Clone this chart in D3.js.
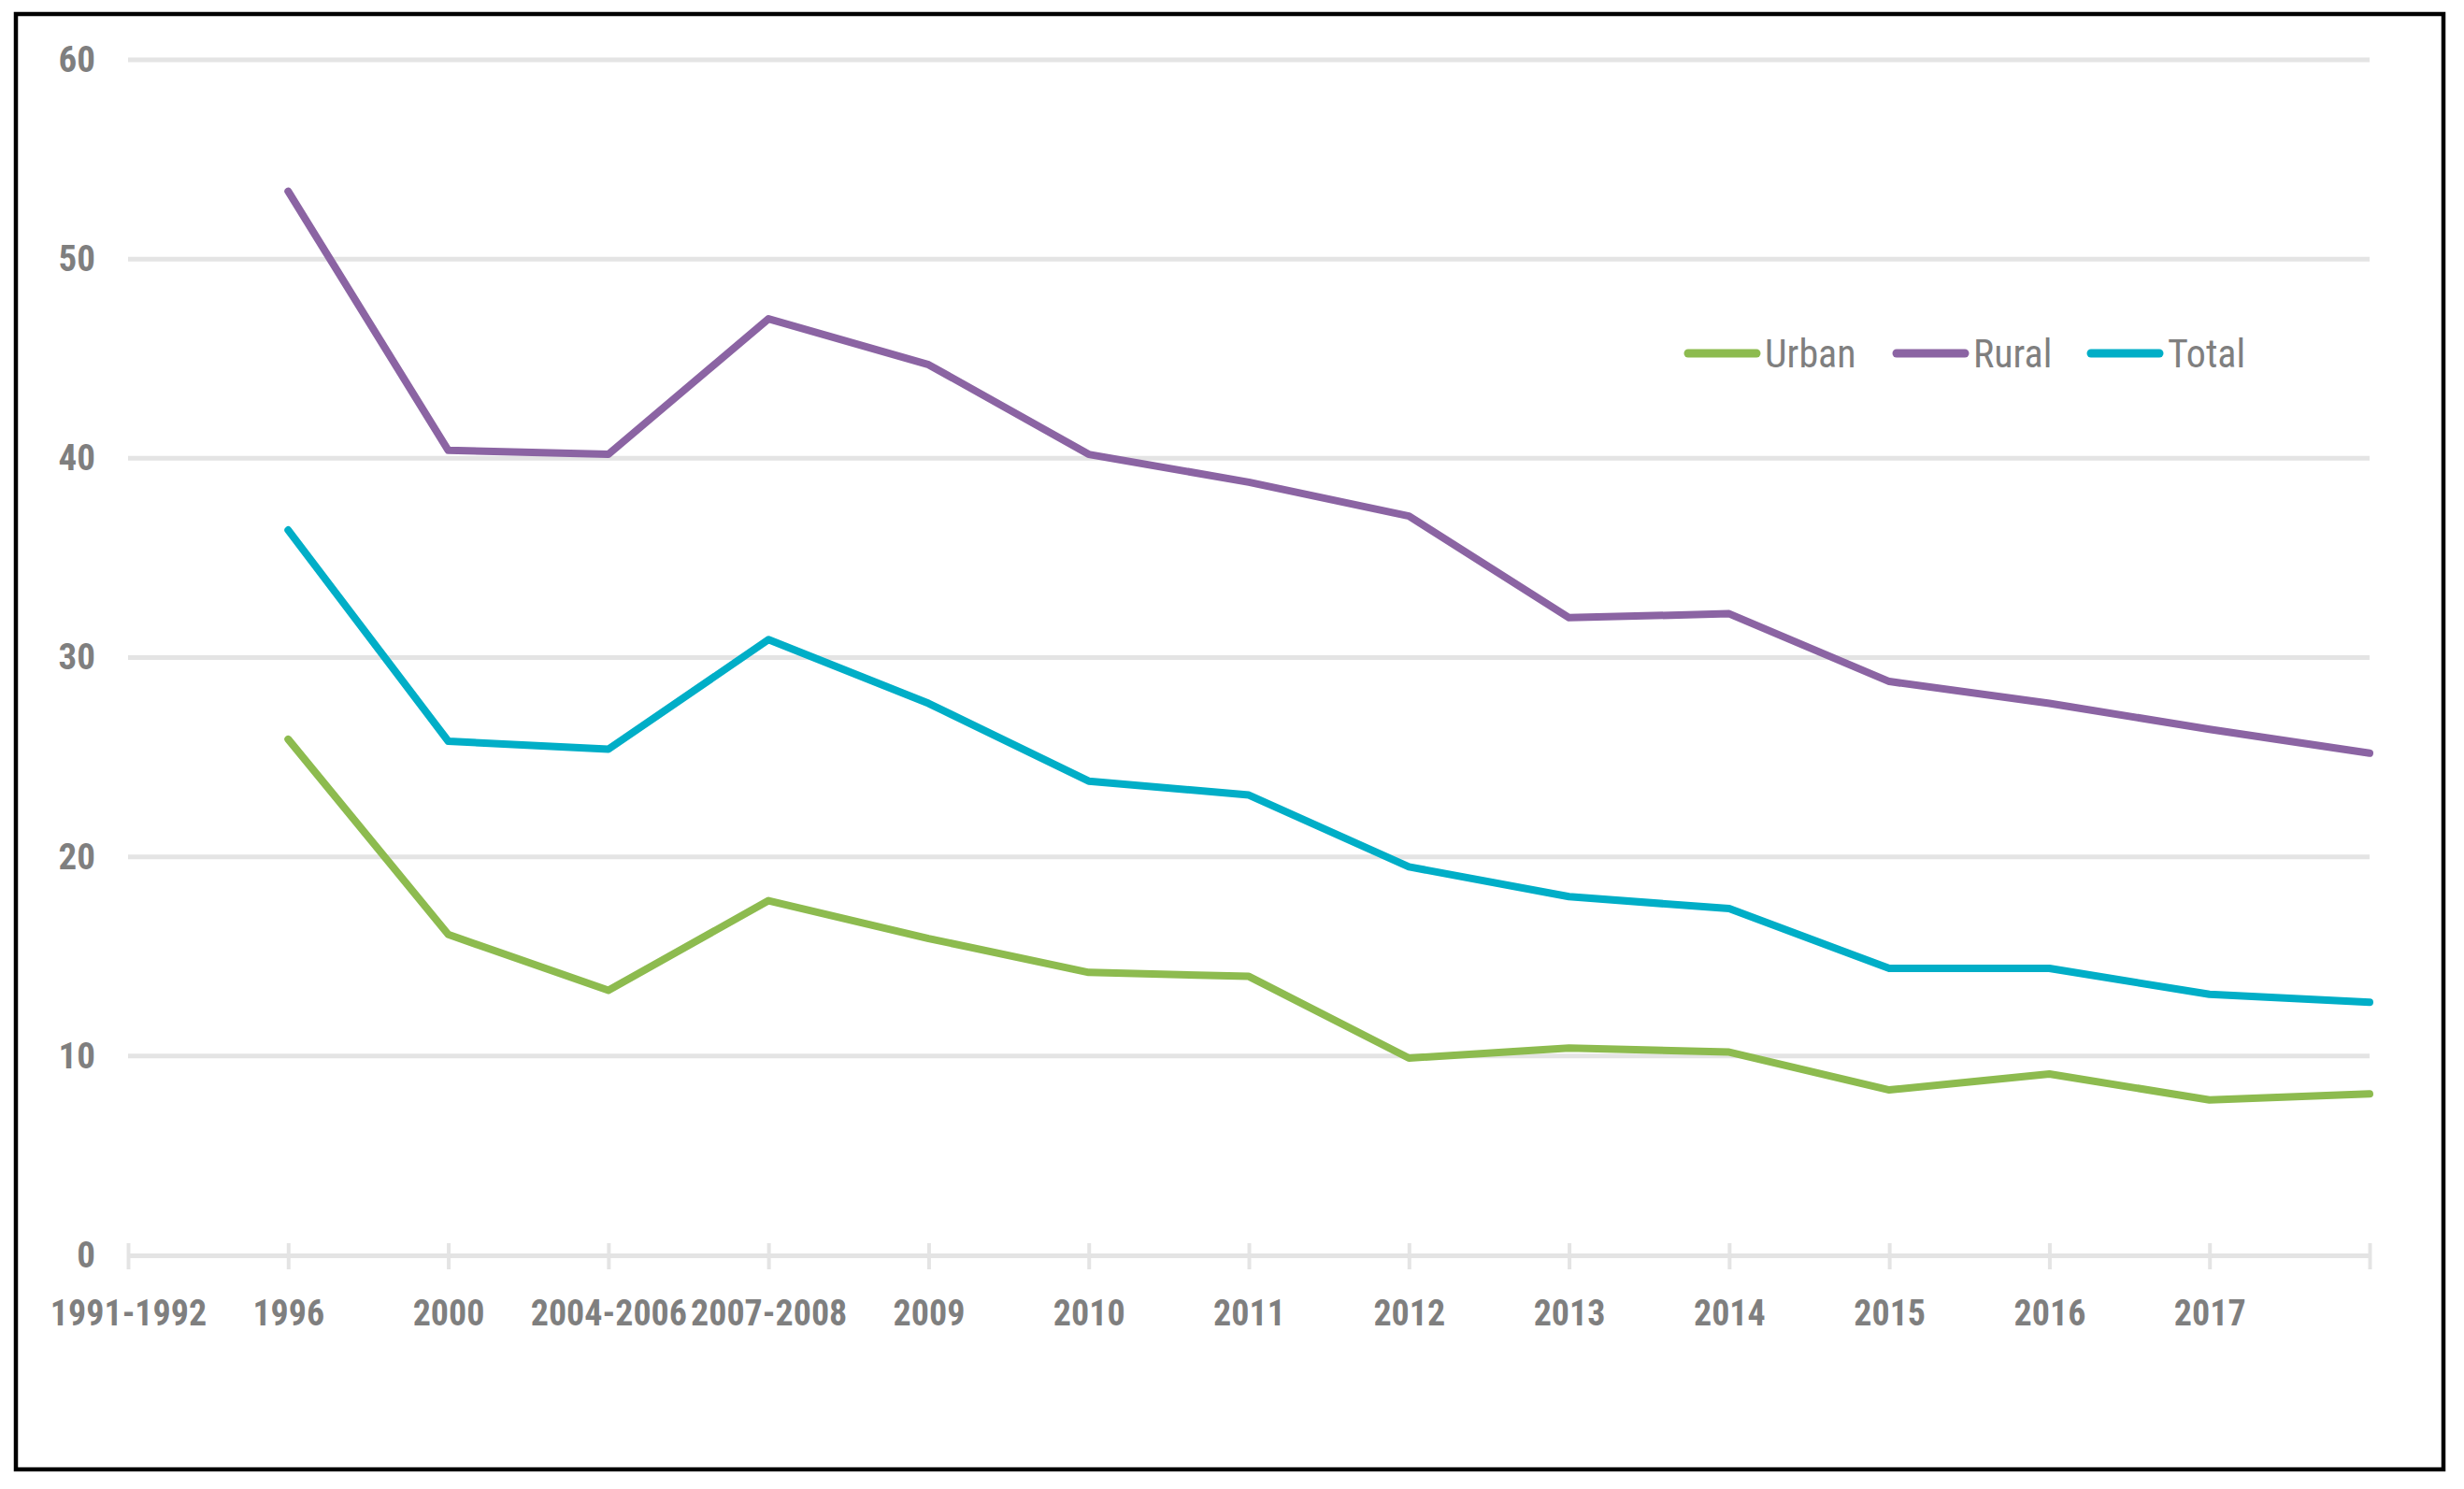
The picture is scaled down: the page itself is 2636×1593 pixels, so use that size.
<!DOCTYPE html>
<html>
<head>
<meta charset="utf-8">
<script src="https://cdn.jsdelivr.net/npm/d3@7"></script>
<style>
  body { margin: 0; background: #fff; }
  text { font-family: "Liberation Sans Narrow", "Roboto Condensed", "Liberation Sans", sans-serif; fill: #7f7f7f; }
</style>
</head>
<body>
<svg id="chart" width="2636" height="1593"></svg>
<script>
// categories on the x axis (last slot has no label)
var categories = ['1991-1992', '1996', '2000', '2004-2006', '2007-2008', '2009', '2010',
  '2011', '2012', '2013', '2014', '2015', '2016', '2017', ''];

// values (first category has no data)
var urban = [null, 25.9, 16.1, 13.3, 17.8, 15.9, 14.2, 14.0, 9.9, 10.4, 10.2, 8.3, 9.1, 7.8, 8.1];
var rural = [null, 53.4, 40.4, 40.2, 47.0, 44.7, 40.2, 38.8, 37.1, 32.0, 32.2, 28.8, 27.7, 26.4, 25.2];
var total = [null, 36.4, 25.8, 25.4, 30.9, 27.7, 23.8, 23.1, 19.5, 18.0, 17.4, 14.4, 14.4, 13.1, 12.7];

var yTicks = [0, 10, 20, 30, 40, 50, 60];

var series = [
  { name: 'Urban', values: urban, color: '#8dbb4f' },
  { name: 'Rural', values: rural, color: '#8b64a3' },
  { name: 'Total', values: total, color: '#00aec7' }
];

var svg = d3.select('#chart');

// outer frame
svg.append('rect')
  .attr('x', 17).attr('y', 15)
  .attr('width', 2597).attr('height', 1557)
  .style('fill', 'none')
  .style('stroke', '#000')
  .style('stroke-width', 4.5);

var x = d3.scalePoint()
  .domain(d3.range(categories.length))
  .range([137, 2535]);

var y = d3.scaleLinear()
  .domain([0, 60])
  .range([1343, 64]);

// gridlines
svg.append('g').selectAll('line')
  .data(yTicks.filter(function(d) { return d > 0; }))
  .enter().append('line')
    .attr('x1', x.range()[0])
    .attr('x2', x.range()[1])
    .attr('y1', function(d) { return y(d); })
    .attr('y2', function(d) { return y(d); })
    .style('stroke', '#e4e4e4')
    .style('stroke-width', 5);

// y axis labels
var yAxis = svg.append('g')
  .attr('transform', 'translate(' + x.range()[0] + ',0)')
  .call(d3.axisLeft(y).tickValues(yTicks).tickSize(0).tickPadding(35));
yAxis.select('.domain').remove();
yAxis.selectAll('text')
  .style('font-size', '39px')
  .style('font-weight', 'bold')
  .style('fill', '#7f7f7f');

// x axis: line, crossing tick marks, labels
var xAxis = svg.append('g')
  .attr('transform', 'translate(0,' + y(0) + ')')
  .call(d3.axisBottom(x)
    .tickFormat(function(i) { return categories[i]; })
    .tickSizeInner(15)
    .tickSizeOuter(0)
    .tickPadding(33));
xAxis.select('.domain')
  .style('stroke', '#e4e4e4')
  .style('stroke-width', 5);
xAxis.selectAll('.tick line')
  .attr('y1', -13)
  .attr('y2', 15)
  .style('stroke', '#e4e4e4')
  .style('stroke-width', 4);
xAxis.selectAll('text')
  .style('font-size', '38px')
  .style('font-weight', 'bold')
  .style('fill', '#7f7f7f');

// lines
var line = d3.line()
  .defined(function(d) { return d != null; })
  .x(function(d, i) { return x(i); })
  .y(function(d) { return y(d); });

svg.append('g').selectAll('path')
  .data(series)
  .enter().append('path')
    .attr('d', function(d) { return line(d.values); })
    .style('fill', 'none')
    .style('stroke', function(d) { return d.color; })
    .style('stroke-width', 8)
    .style('stroke-linejoin', 'round')
    .style('stroke-linecap', 'round');

// legend
var legendX = [1806, 2029, 2237];
var legend = svg.append('g').selectAll('g')
  .data(series)
  .enter().append('g')
    .attr('transform', function(d, i) { return 'translate(' + legendX[i] + ',378)'; });

legend.append('line')
  .attr('x1', 0).attr('x2', 73)
  .attr('y1', 0).attr('y2', 0)
  .style('stroke', function(d) { return d.color; })
  .style('stroke-width', 9)
  .style('stroke-linecap', 'round');

legend.append('text')
  .attr('x', 82)
  .attr('y', 15)
  .style('font-size', '42px')
  .text(function(d) { return d.name; });
</script>
</body>
</html>
